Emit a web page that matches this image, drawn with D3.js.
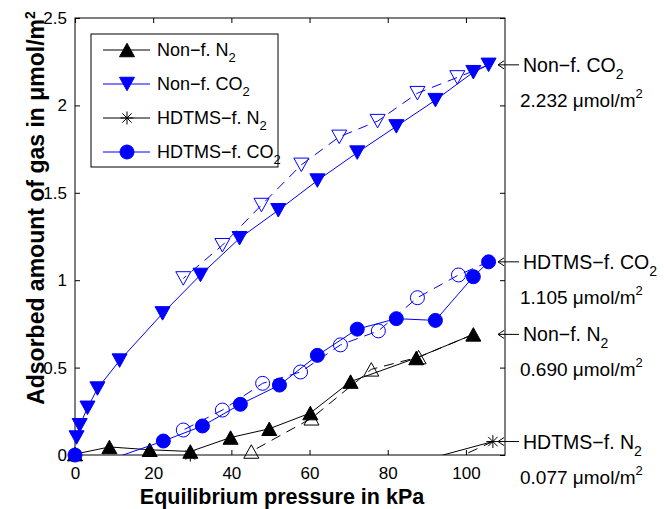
<!DOCTYPE html>
<html>
<head>
<meta charset="utf-8">
<script src="https://cdn.jsdelivr.net/npm/d3@7"></script>
<style>
  html, body { margin: 0; padding: 0; background: #fff; }
  svg { display: block; font-family: "Liberation Sans", Arial, Helvetica, sans-serif; }
</style>
</head>
<body>
<svg id="chart" width="664" height="509"></svg>
<script>
// ---------------- DATA ----------------
// Non-functionalized N2 (adsorption: filled, solid line)
const nonfN2_x = [0, 8.8, 19.1, 29.5, 39.8, 49.7, 60.2, 70.5, 87.3, 101.9];
const nonfN2_y = [0.005, 0.046, 0.03, 0.02, 0.10, 0.15, 0.24, 0.42, 0.555, 0.690];
// Non-functionalized N2 (desorption: open, dashed line)
const nonfN2d_x = [101.9, 87.9, 75.8, 60.5, 45.1];
const nonfN2d_y = [0.690, 0.56, 0.49, 0.21, 0.02];

// Non-functionalized CO2 (adsorption)
const nonfCO2_x = [0.4, 1.2, 3.2, 5.75, 11.4, 22.4, 32.1, 42.1, 52.0, 62.0, 72.2, 82.2, 92.2, 101.9, 105.8];
const nonfCO2_y = [0.10, 0.17, 0.27, 0.38, 0.54, 0.81, 1.03, 1.24, 1.40, 1.57, 1.73, 1.88, 2.03, 2.19, 2.232];
// Non-functionalized CO2 (desorption)
const nonfCO2d_x = [105.8, 97.8, 87.6, 77.4, 67.6, 57.9, 47.7, 37.7, 27.7];
const nonfCO2d_y = [2.232, 2.16, 2.07, 1.91, 1.82, 1.66, 1.43, 1.20, 1.01];

// HDTMS-functionalized N2 (adsorption)
const hdN2_x = [29.5, 40, 50, 60, 70, 80, 90, 106.9];
const hdN2_y = [0.0, -0.06, -0.08, -0.09, -0.08, -0.06, -0.025, 0.077];
// HDTMS-functionalized N2 (desorption)
const hdN2d_x = [106.9, 99, 90];
const hdN2d_y = [0.077, -0.004, -0.05];

// HDTMS-functionalized CO2 (adsorption)
const hdCO2_x = [0, 2, 22.6, 32.6, 42.3, 52.3, 62.0, 72.2, 82.2, 92.2, 101.9, 105.8];
const hdCO2_y = [0, -0.08, 0.08, 0.166, 0.29, 0.40, 0.57, 0.72, 0.78, 0.77, 1.02, 1.105];
// HDTMS-functionalized CO2 (desorption)
const hdCO2d_x = [105.8, 98.1, 87.6, 77.6, 67.9, 57.7, 48.0, 37.7, 27.7];
const hdCO2d_y = [1.105, 1.03, 0.90, 0.71, 0.63, 0.475, 0.41, 0.257, 0.143];

// Ticks / labels
const xTicks = [0, 20, 40, 60, 80, 100];
const yTicks = [0, 0.5, 1, 1.5, 2, 2.5];
const xLabel = "Equilibrium pressure in kPa";
const yLabel = "Adsorbed amount of gas in μmol/m";
const legendNames = [["Non−f. N", "2"], ["Non−f. CO", "2"], ["HDTMS−f. N", "2"], ["HDTMS−f. CO", "2"]];
const annoNames = [["Non−f. CO", "2"], ["HDTMS−f. CO", "2"], ["Non−f. N", "2"], ["HDTMS−f. N", "2"]];
const annoValues = [2.232, 1.105, 0.690, 0.077];

// ---------------- LAYOUT ----------------
const svg = d3.select("#chart");
const L = 75, R = 505, T = 18, B = 455;
const x = d3.scaleLinear().domain([0, 110]).range([L, R]);
const y = d3.scaleLinear().domain([0, 2.5]).range([B, T]);
const BLUE = "#0000ff";

svg.append("defs").append("clipPath").attr("id", "clip")
  .append("rect").attr("x", L).attr("y", T).attr("width", R - L).attr("height", B - T);

// Axes (inward ticks on all four sides)
const fs = 17;
svg.append("g").attr("transform", `translate(0,${B})`)
  .call(d3.axisBottom(x).tickValues(xTicks).tickSizeInner(-5).tickSizeOuter(0).tickPadding(12).tickFormat(d3.format("d")));
svg.append("g").attr("transform", `translate(${L},0)`)
  .call(d3.axisLeft(y).tickValues(yTicks).tickSizeInner(-5).tickSizeOuter(0).tickPadding(8).tickFormat(d => String(d)));
svg.append("g").attr("transform", `translate(0,${T})`)
  .call(d3.axisTop(x).tickValues(xTicks).tickSizeInner(-5).tickSizeOuter(0).tickFormat(""));
svg.append("g").attr("transform", `translate(${R},0)`)
  .call(d3.axisRight(y).tickValues(yTicks).tickSizeInner(-5).tickSizeOuter(0).tickFormat(""));
svg.selectAll(".domain").remove();
svg.selectAll(".tick line").attr("stroke", "#000");
svg.selectAll(".tick text").attr("font-size", fs).attr("fill", "#000").attr("font-family", "Liberation Sans, Arial, sans-serif");

// Plot box
svg.append("rect").attr("x", L).attr("y", T).attr("width", R - L).attr("height", B - T)
  .attr("fill", "none").attr("stroke", "#000").attr("stroke-width", 1);

// Axis labels
svg.append("text").attr("x", 282).attr("y", 504).attr("text-anchor", "middle")
  .attr("font-size", 21.5).attr("font-weight", "bold").text(xLabel);
const yl = svg.append("text").attr("transform", `translate(44,208) rotate(-90)`)
  .attr("text-anchor", "middle").attr("font-size", 23).attr("font-weight", "bold");
yl.append("tspan").text(yLabel);
yl.append("tspan").attr("font-size", 14).attr("dy", -9).text("2");

// ---------------- MARKERS ----------------
function triPath(up, s) {
  const w = s / 2, h = s * 0.45;
  return up ? `M0,${-h}L${w},${h}L${-w},${h}Z` : `M0,${h}L${w},${-h}L${-w},${-h}Z`;
}
function starPath(s) {
  const r = s / 2, d = r * 0.72;
  return `M${-r},0L${r},0M0,${-r}L0,${r}M${-d},${-d}L${d},${d}M${-d},${d}L${d},${-d}`;
}
function drawMarker(g, type, filled, color) {
  if (type === "circle") {
    g.append("circle").attr("r", 7).attr("fill", filled ? color : "none").attr("stroke", color).attr("stroke-width", 1);
  } else if (type === "up" || type === "down") {
    g.append("path").attr("d", triPath(type === "up", 15)).attr("fill", filled ? color : "none")
      .attr("stroke", color).attr("stroke-width", 1);
  } else if (type === "star") {
    g.append("path").attr("d", starPath(13)).attr("fill", "none").attr("stroke", color).attr("stroke-width", 1);
  }
}

const series = [
  {xs: nonfN2_x, ys: nonfN2_y, color: "#000", type: "up", filled: true, dash: null},
  {xs: nonfN2d_x, ys: nonfN2d_y, color: "#000", type: "up", filled: false, dash: "10,7"},
  {xs: hdN2_x, ys: hdN2_y, color: "#000", type: "star", filled: true, dash: null},
  {xs: hdN2d_x, ys: hdN2d_y, color: "#000", type: "up", filled: false, dash: "10,7"},
  {xs: nonfCO2d_x, ys: nonfCO2d_y, color: BLUE, type: "down", filled: false, dash: "10,7"},
  {xs: nonfCO2_x, ys: nonfCO2_y, color: BLUE, type: "down", filled: true, dash: null},
  {xs: hdCO2d_x, ys: hdCO2d_y, color: BLUE, type: "circle", filled: false, dash: "10,7"},
  {xs: hdCO2_x, ys: hdCO2_y, color: BLUE, type: "circle", filled: true, dash: null},
];

const line = d3.line().x(d => x(d[0])).y(d => y(d[1]));
series.forEach(s => {
  const pts = s.xs.map((v, i) => [v, s.ys[i]]);
  svg.append("path").datum(pts).attr("d", line).attr("clip-path", "url(#clip)")
    .attr("fill", "none").attr("stroke", s.color).attr("stroke-width", 1)
    .attr("stroke-dasharray", s.dash);
  // Desorption series share their first point with the adsorption end point: skip that marker
  const mpts = s.filled ? pts : pts.slice(1);
  mpts.filter(p => p[1] >= 0 && p[1] <= 2.5).forEach(p => {
    const g = svg.append("g").attr("transform", `translate(${x(p[0])},${y(p[1])})`);
    drawMarker(g, s.type, s.filled, s.color);
  });
});

// ---------------- LEGEND ----------------
const lg = svg.append("g");
lg.append("rect").attr("x", 91).attr("y", 34).attr("width", 187).attr("height", 133)
  .attr("fill", "#fff").attr("stroke", "#000").attr("stroke-width", 1);
const legItems = [
  {color: "#000", type: "up"}, {color: BLUE, type: "down"},
  {color: "#000", type: "star"}, {color: BLUE, type: "circle"}
];
legItems.forEach((it, i) => {
  const cy = 50 + i * 34;
  lg.append("line").attr("x1", 103).attr("x2", 150).attr("y1", cy).attr("y2", cy)
    .attr("stroke", it.color).attr("stroke-width", 1);
  const g = lg.append("g").attr("transform", `translate(127,${cy})`);
  drawMarker(g, it.type, true, it.color);
  const t = lg.append("text").attr("x", 157).attr("y", cy + 6).attr("font-size", 18);
  t.append("tspan").text(legendNames[i][0]);
  t.append("tspan").attr("font-size", 13).attr("dy", 6).text(legendNames[i][1]);
});

// ---------------- RIGHT ANNOTATIONS ----------------
annoValues.forEach((v, i) => {
  const yy = y(v);
  const g = svg.append("g");
  g.append("path").attr("d", `M498,${yy}L519,${yy}M504,${yy - 4}L498,${yy}L504,${yy + 4}`)
    .attr("fill", "none").attr("stroke", "#000").attr("stroke-width", 1);
  const t1 = g.append("text").attr("x", 523).attr("y", yy + 7).attr("font-size", 19.5);
  t1.append("tspan").text(annoNames[i][0]);
  t1.append("tspan").attr("font-size", 14).attr("dy", 7).text(annoNames[i][1]);
  const t2 = g.append("text").attr("x", 520).attr("y", yy + 42).attr("font-size", 19);
  t2.append("tspan").text(v.toFixed(3) + " μmol/m");
  t2.append("tspan").attr("font-size", 13).attr("dy", -9).text("2");
});
</script>
</body>
</html>
